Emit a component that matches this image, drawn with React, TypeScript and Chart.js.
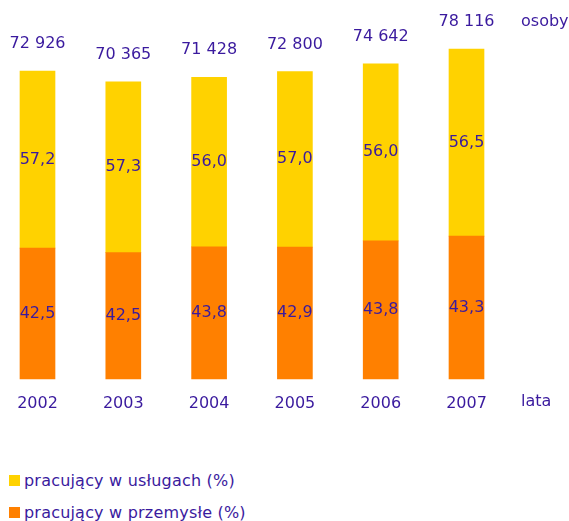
import React, { useEffect, useRef } from 'react';
import { Chart, registerables } from 'chart.js';

Chart.register(...registerables);

const years = ['2002', '2003', '2004', '2005', '2006', '2007'];
const totals = [72926, 70365, 71428, 72800, 74642, 78116];
const totalLabels = ['72 926', '70 365', '71 428', '72 800', '74 642', '78 116'];
const industryPct = [42.5, 42.5, 43.8, 42.9, 43.8, 43.3];
const servicesPct = [57.2, 57.3, 56.0, 57.0, 56.0, 56.5];

const servicesLabel = 'pracujący w usługach (%)';
const industryLabel = 'pracujący w przemysłe (%)';
const unitLabel = 'osoby';
const axisLabel = 'lata';

const TEXT = '#3a1a9e';
const YELLOW = '#ffd200';
const ORANGE = '#ff8000';
const FONT = '"DejaVu Sans", Verdana, sans-serif';

const industryValues = totals.map((t, i) => (t * industryPct[i]) / 100);
const servicesValues = totals.map((t, i) => t - industryValues[i]);

const fmt = (v: number) => v.toFixed(1).replace('.', ',');

const labelsPlugin = {
  id: 'valueLabels',
  afterDatasetsDraw(chart: any) {
    const ctx = chart.ctx;
    ctx.save();
    ctx.font = `16px ${FONT}`;
    ctx.fillStyle = TEXT;
    ctx.textAlign = 'center';
    ctx.textBaseline = 'middle';
    const pctSets = [industryPct, servicesPct];
    chart.data.datasets.forEach((_: any, di: number) => {
      const meta = chart.getDatasetMeta(di);
      meta.data.forEach((el: any, i: number) => {
        ctx.fillText(fmt(pctSets[di][i]), el.x, (el.y + el.base) / 2);
      });
    });
    const top = chart.getDatasetMeta(1);
    ctx.textBaseline = 'alphabetic';
    top.data.forEach((el: any, i: number) => {
      ctx.fillText(totalLabels[i], el.x, el.y - 23);
    });
    ctx.textAlign = 'left';
    ctx.fillText(unitLabel, 521, 26);
    ctx.fillText(axisLabel, 521, 406);
    ctx.restore();
  },
};

export default function App() {
  const ref = useRef<HTMLCanvasElement | null>(null);
  useEffect(() => {
    if (!ref.current) return;
    const chart = new Chart(ref.current, {
      type: 'bar',
      data: {
        labels: years,
        datasets: [
          { label: industryLabel, data: industryValues, backgroundColor: ORANGE, barThickness: 35, clip: false },
          { label: servicesLabel, data: servicesValues, backgroundColor: YELLOW, barThickness: 35, clip: false },
        ],
      },
      options: {
        animation: false,
        responsive: true,
        maintainAspectRatio: false,
        layout: { padding: { left: 37.5, right: 102.5, top: 39, bottom: 1.8 } },
        plugins: { legend: { display: false }, tooltip: { enabled: false } },
        scales: {
          x: {
            stacked: true,
            offset: false,
            grid: { display: false, drawTicks: false },
            border: { display: false },
            ticks: { color: TEXT, font: { family: FONT, size: 16 }, padding: 15, maxRotation: 0 },
          },
          y: {
            stacked: true,
            display: false,
            min: 0,
            max: 80500,
          },
        },
      },
      plugins: [labelsPlugin],
    });
    return () => chart.destroy();
  }, []);

  const legendItem = (color: string, text: string, top: number) => (
    <div style={{ position: 'absolute', left: 9, top, height: 20, display: 'flex', alignItems: 'center' }}>
      <span style={{ display: 'inline-block', width: 11, height: 11, background: color, marginRight: 4 }} />
      <span style={{ fontFamily: FONT, fontSize: 16, color: TEXT, whiteSpace: 'nowrap', letterSpacing: 0.2 }}>{text}</span>
    </div>
  );

  return (
    <div style={{ position: 'absolute', left: 0, top: 0, width: 569, height: 521, background: '#fff' }}>
      <div style={{ position: 'absolute', left: 0, top: 0, width: 569, height: 430 }}>
        <canvas ref={ref} />
      </div>
      {legendItem(YELLOW, servicesLabel, 470)}
      {legendItem(ORANGE, industryLabel, 502)}
    </div>
  );
}
